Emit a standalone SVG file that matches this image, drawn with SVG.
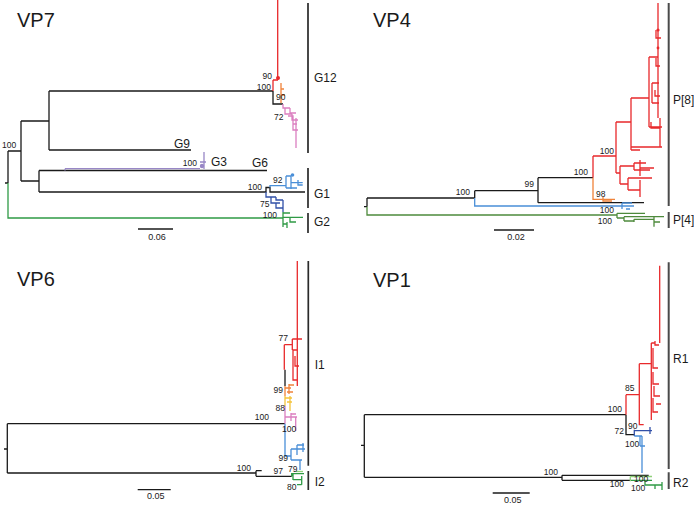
<svg xmlns="http://www.w3.org/2000/svg" width="694" height="506" viewBox="0 0 694 506">
<style>
path{fill:none;stroke-width:1.3;stroke-linejoin:miter}
.k{stroke:#1a1a1a}
.r{stroke:#e8292b}
.o{stroke:#f0833a}
.y{stroke:#f5c33b}
.p{stroke:#db7fc0}
.v{stroke:#9887c6}
.lb{stroke:#4a8fd8}
.db{stroke:#3150a8}
.g{stroke:#2f9a45}
.g4{stroke:#4e8a3c}
.lg{stroke:#8fd07a}
.bar{stroke:#2a2a2a;stroke-width:1.7}
.bar4{stroke:#4a4a4a;stroke-width:2}
text{font-family:"Liberation Sans",Arial,sans-serif;fill:#1a1a1a}
.t{font-size:20px}
.c{font-size:12px}
.n{font-size:8.5px}
.e{text-anchor:end}
.m{text-anchor:middle}
.s{font-size:9px;text-anchor:middle}
.fr{fill:#e8292b}.fo{fill:#f0833a}.fp{fill:#db7fc0}.fv{fill:#9887c6}.flb{fill:#4a8fd8}.fdb{fill:#3150a8}.fg{fill:#2f9a45}
</style>

<g id="vp7">
<text class="t" x="17" y="27">VP7</text>
<g id="vp7-branches">
<path class="k" d="M5 183H8M8 151V183M8 151H21M21 121V181M21 121H49M49 91V150M49 91H273M49 150H191M21 181H39M39 170.5V192M39 170.5H267M39 192H266V187.5H270V192H305M273 91V104H283"/>
<path class="g" d="M8 183V218H283M283 212V227M283 213H290M283 217.3H303M290 217V222H296M283 224H287M287 222V228"/>
<path class="v" d="M65 168.7H200M65 168.7V170.5M200 166H204M204 152V169M200 162H206"/>
<path class="r" d="M277.7 0V80M273 80H278M273 80V91"/>
<path class="o" d="M281 83V103M281 95H285M281 89H284"/>
<path class="p" d="M283 104V108H290M285 108V114H292M290 108V113H296M292 114V120H298M296 118V148M288 116H293V124H297M293 124V130H298"/>
<path class="lb" d="M270 187.5V185.7H286M286 176V188M286 176H291M286 188H297M291 176V189M291 182.7H302.7M298 180V185H302.7"/>
<path class="db" d="M266 192V197H276M271 197V203H280M276 197V200H283M283 200V212M276 203V208H283"/>
<circle class="fr" cx="278" cy="78" r="2"/>
<circle class="fv" cx="202" cy="166" r="2.2"/>
<circle class="flb" cx="292.5" cy="175" r="1.8"/>
</g>
<text class="n e" x="272" y="79">90</text>
<text class="n e" x="271" y="90">100</text>
<text class="n" x="276" y="100">90</text>
<text class="n" x="274" y="120">72</text>
<text class="n" x="2" y="148">100</text>
<text class="n e" x="197" y="166">100</text>
<text class="n" x="273" y="183">92</text>
<text class="n e" x="262" y="190">100</text>
<text class="n" x="260" y="206.5">75</text>
<text class="n e" x="277" y="217.5">100</text>
<text class="c" x="174" y="148">G9</text>
<text class="c" x="211" y="166">G3</text>
<text class="c" x="252" y="167">G6</text>
<path class="bar" d="M308 3V153M308 168V208M308 213V233"/>
<text class="c" x="314" y="82">G12</text>
<text class="c" x="314" y="198">G1</text>
<text class="c" x="314" y="226">G2</text>
<path class="k" d="M138 229H173"/>
<text class="s" x="157" y="240">0.06</text>
</g>

<g id="vp4">
<text class="t" x="373" y="27">VP4</text>
<g id="vp4-branches">
<path class="k" d="M364 206.7H367M367 198V206.7M367 198H474.7M474.7 190.7V198M474.7 190.7H538M538 177.7V202.7M538 177.7H593M538 202.7H644"/>
<path class="lb" d="M474.7 198V206H634M622 203V209M622 203H632M626 209H630"/>
<path class="g4" d="M367 206.7V215H617M617 213.3V218M617 213.3H645M617 218H624M624 216.7V221M624 216.7H664M624 221H634M634 219.3V222M634 219.3H654M654 216.7V226.7M654 222H660"/>
<path class="o" d="M593 177.7V199.3H615M603 197V201H612"/>
<path class="r" d="M593 156V177.7M593 156H616M616 122V173M616 122H631M616 173H620M620 166V184M620 166H634M620 184H628M628 178V190M628 178H652M628 190H640M640 180V197M634 163V170M634 163H646M634 170H650M640 160V176M640 168H654M631 98V150M631 98H649M631 150H640M631 147H662M649 57V127M649 57H658M649 127H662M658 3V118M660 118V147M652 83V103M652 83H659M652 103H659M655 90V96H660M651 122V128H660M656 30V38H661M656 58V66H660"/>
<circle class="fr" cx="658" cy="30" r="1.6"/>
<circle class="fr" cx="658" cy="48" r="1.4"/>
</g>
<text class="n e" x="614" y="154">100</text>
<text class="n e" x="588" y="175">100</text>
<text class="n e" x="534" y="187">99</text>
<text class="n e" x="470" y="195">100</text>
<text class="n" x="596" y="197">98</text>
<text class="n e" x="614" y="213">100</text>
<text class="n e" x="612" y="224">100</text>
<path class="bar4" d="M668.7 3V206M668.7 212V228"/>
<text class="c" x="673" y="104">P[8]</text>
<text class="c" x="673" y="224">P[4]</text>
<path class="k" d="M494 230H534"/>
<text class="s" x="516" y="240">0.02</text>
</g>

<g id="vp6">
<text class="t" x="17" y="286">VP6</text>
<g id="vp6-branches">
<path class="k" d="M4 449H7.3M7.3 423.7V473M7.3 423.7H285M7.3 473H256M256 470.7V476.3M256 470.7H261.7M256 476.3H291.7M285 369.7V386"/>
<path class="r" d="M284.3 344.7V369.7M284.3 344.7H292.3M292.3 339V350M292.3 339H302M292.3 350H297M297.3 261V386M293 350V380H297M295 356V366H299"/>
<path class="o" d="M285 386V396M285 388H291M289 384V394M289 385H294M287 392H293"/>
<path class="y" d="M285 396V406M285 398H292M290 396V411M287 402H292"/>
<path class="p" d="M285 406V423.7M285 417H297M291 413V421M291 414H296M295.7 417V431"/>
<path class="lb" d="M285 423.7V456H291M291 449V460M291 449H305M291 460H302M297 445V455M297 445H304M303 443V452M300 460V470"/>
<path class="g" d="M291.7 476.3V473.7H304M293 473.7V480M293 479.7H301.7M301.7 476V484.7M297 484.7H301.7"/>
<path class="lg" d="M296 471.5H303"/>
</g>
<text class="n e" x="288" y="341">77</text>
<text class="n e" x="283" y="393">99</text>
<text class="n e" x="285" y="411">88</text>
<text class="n e" x="269" y="420">100</text>
<text class="n" x="282" y="432">100</text>
<text class="n e" x="288" y="461">99</text>
<text class="n" x="288" y="472">79</text>
<text class="n e" x="283" y="474">97</text>
<text class="n e" x="251" y="471">100</text>
<text class="n" x="287" y="490">80</text>
<path class="bar" d="M308.3 261V465.7M308.3 471V490"/>
<text class="c" x="314.7" y="369">I1</text>
<text class="c" x="314.7" y="486">I2</text>
<path class="k" d="M137.7 489.7H170.7"/>
<text class="s" x="155.7" y="499">0.05</text>
</g>

<g id="vp1">
<text class="t" x="373" y="287">VP1</text>
<g id="vp1-branches">
<path class="k" d="M361 445.3H364.3M364.3 414.7V477.3M364.3 414.7H626M364.3 477.3H562M562 475.3V480.3M562 475.3H648.7M562 480.3H630.3M626 414.7V434.7H634.3"/>
<path class="r" d="M626 394.7V414.7M626 394.7H639.3M639.3 363.7V424.7H643.7M639.3 363.7H651.3M651.3 343V420M651.3 343H655M655 341V345H659M659.7 265.7V343M653 348V368H658M653 372V384H659M654 386V396H660M653 398V412H658M656 404H661"/>
<path class="db" d="M634.3 429.7V436M634.3 430.7H652M650 427V434"/>
<path class="lb" d="M634.3 436H642M640 436V446M642 436V473M640 446H645"/>
<path class="g" d="M630.3 480.3H652M645 481.3V485H662M662 482V490M655 485V489"/>
<path class="lg" d="M630.3 476.5V481.3M630.3 476.5H652"/>
</g>
<text class="n" x="625" y="391">85</text>
<text class="n e" x="622" y="412">100</text>
<text class="n" x="628" y="429">90</text>
<text class="n e" x="624" y="434">72</text>
<text class="n" x="625" y="447">100</text>
<text class="n e" x="558" y="474.5">100</text>
<text class="n" x="634" y="482">100</text>
<text class="n e" x="624" y="487">100</text>
<text class="n" x="631" y="491">100</text>
<path class="bar4" d="M668.7 262.3V469M668.7 472.3V489"/>
<text class="c" x="673" y="363">R1</text>
<text class="c" x="673" y="487">R2</text>
<path class="k" d="M492.7 493H529.7"/>
<text class="s" x="512.7" y="503">0.05</text>
</g>
</svg>
